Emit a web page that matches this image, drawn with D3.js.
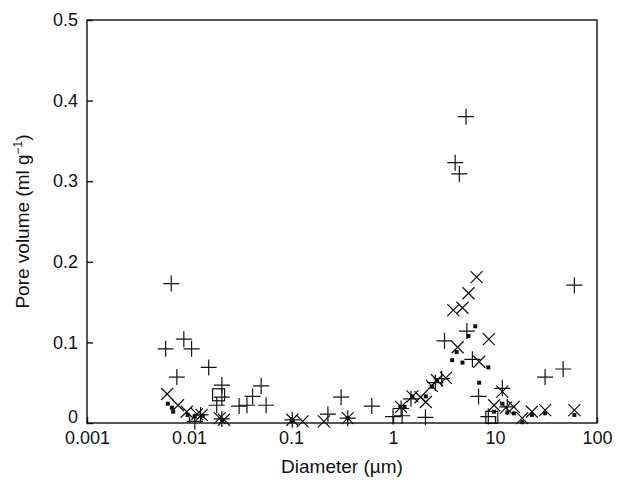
<!DOCTYPE html>
<meta charset="utf-8">
<style>
body { margin: 0; background: #fff; }
text { font-family: "Liberation Sans", Arial, sans-serif; fill: #111; }
.axis path, .axis line { stroke: #111; stroke-width: 1.4; }
.mark { stroke: #111; fill: none; stroke-width: 1.2; }
</style>
<script src="https://d3js.org/d3.v7.min.js"></script>
<div id="chart"></div>
<script>
// tick labels
var xTicks = [0.001, 0.01, 0.1, 1, 10, 100];
var xTickLabels = ["0.001", "0.01", "0.1", "1", "10", "100"];
var yTicks = [0, 0.1, 0.2, 0.3, 0.4, 0.5];
var yTickLabels = ["0", "0.1", "0.2", "0.3", "0.4", "0.5"];

// series: diameter (um) and pore volume (ml/g)
var plusD = [0.0059, 0.0067, 0.0076, 0.0089, 0.0106, 0.0114, 0.013, 0.0156, 0.0187, 0.021, 0.021, 0.021, 0.031, 0.037, 0.042, 0.051, 0.057,
  0.103, 0.23, 0.31, 0.36, 0.62, 1.0, 1.2, 1.23, 1.5, 2.08, 2.6, 3.0, 3.2, 4.07, 4.47, 5.2, 5.3, 6.0, 6.9, 8.6, 11.8, 13.2, 31, 46.6, 60];
var plusV = [0.092, 0.173, 0.057, 0.104, 0.092, 0.002, 0.010, 0.069, 0.022, 0.047, 0.032, 0.005, 0.021, 0.022, 0.033, 0.046, 0.022,
  0.004, 0.011, 0.032, 0.006, 0.021, 0.008, 0.018, 0.009, 0.030, 0.007, 0.050, 0.055, 0.102, 0.323, 0.309, 0.380, 0.114, 0.079, 0.033, 0.008, 0.043, 0.020, 0.057, 0.067, 0.171];

var crossD = [0.0061, 0.0078, 0.0095, 0.012, 0.0133, 0.020, 0.022, 0.103, 0.13, 0.21, 0.36, 1.2, 1.55, 1.86, 2.1, 2.4, 2.7, 3.3,
  3.9, 4.3, 4.8, 5.5, 6.6, 7.0, 8.7, 9.8, 11.8, 12.8, 15.3, 18.5, 23, 31, 60];
var crossV = [0.036, 0.022, 0.014, 0.011, 0.010, 0.006, 0.004, 0.004, 0.002, 0.002, 0.006, 0.020, 0.033, 0.032, 0.026, 0.046, 0.053, 0.056,
  0.140, 0.094, 0.143, 0.161, 0.181, 0.076, 0.104, 0.022, 0.039, 0.019, 0.020, 0.006, 0.014, 0.016, 0.016];

var squareD = [0.0062, 0.0068, 0.007, 0.0097, 0.0114, 0.0136, 0.021, 0.103, 0.36, 1.18, 1.3, 1.55, 2.1, 2.4, 2.7,
  3.8, 4.2, 4.8, 5.5, 6.4, 7.0, 8.6, 9.8, 11.8, 13.2, 15.3, 18.5, 23, 31, 60];
var squareV = [0.024, 0.019, 0.014, 0.010, 0.008, 0.009, 0.004, 0.003, 0.006, 0.020, 0.020, 0.033, 0.033, 0.045, 0.053,
  0.078, 0.088, 0.075, 0.108, 0.120, 0.050, 0.069, 0.014, 0.024, 0.013, 0.012, 0.001, 0.010, 0.012, 0.010];

var openD = [0.0195, 9.3];
var openV = [0.035, 0.007];

var W = 617, H = 484;
var margin = {top: 20, right: 20, bottom: 61, left: 87};

var svg = d3.select("#chart").append("svg")
  .attr("width", W).attr("height", H);

var x = d3.scaleLog().domain([0.001, 100]).range([margin.left, W - margin.right]);
var y = d3.scaleLinear().domain([0, 0.5]).range([H - margin.bottom, margin.top]);

// frame
svg.append("rect")
  .attr("x", x(0.001)).attr("y", y(0.5))
  .attr("width", x(100) - x(0.001)).attr("height", y(0) - y(0.5))
  .attr("fill", "none").attr("stroke", "#111").attr("stroke-width", 1.4);

svg.append("g").attr("class", "axis")
  .attr("transform", "translate(0," + y(0) + ")")
  .call(d3.axisBottom(x).tickValues(xTicks)
    .tickFormat(function(d, i) { return xTickLabels[i]; })
    .tickSizeInner(-6).tickSizeOuter(0).tickPadding(8))
  .call(function(g) { g.select(".domain").remove(); })
  .selectAll("text").style("font-size", "18px").attr("fill", "#111");

var yAxis = svg.append("g").attr("class", "axis")
  .attr("transform", "translate(" + x(0.001) + ",0)")
  .call(d3.axisLeft(y).tickValues(yTicks)
    .tickFormat(function(d, i) { return yTickLabels[i]; })
    .tickSizeInner(-6).tickSizeOuter(0).tickPadding(9));
yAxis.select(".domain").remove();
yAxis.selectAll("text").style("font-size", "18px").attr("fill", "#111")
  .attr("dy", function(d) { return d === 0 ? "-0.05em" : "0.32em"; });

// axis titles
svg.append("text")
  .attr("x", (x(0.001) + x(100)) / 2).attr("y", 473)
  .attr("text-anchor", "middle").style("font-size", "19px")
  .text("Diameter (\u00b5m)");

var yl = svg.append("text")
  .attr("transform", "translate(29," + ((y(0) + y(0.5)) / 2) + ") rotate(-90)")
  .attr("text-anchor", "middle").style("font-size", "19px");
yl.append("tspan").text("Pore volume (ml g");
yl.append("tspan").attr("dy", -7).style("font-size", "12px").text("\u22121");
yl.append("tspan").attr("dy", 7).text(")");

function pairs(ds, vs) { return ds.map(function(d, i) { return {d: d, v: vs[i]}; }); }

// plus markers
svg.append("g").selectAll("path").data(pairs(plusD, plusV)).join("path")
  .attr("class", "mark")
  .attr("d", function(p) {
    var cx = x(p.d), cy = y(p.v), r = 8;
    return "M" + (cx - r) + "," + cy + "H" + (cx + r) + "M" + cx + "," + (cy - r) + "V" + (cy + r);
  });

// cross markers
svg.append("g").selectAll("path").data(pairs(crossD, crossV)).join("path")
  .attr("class", "mark")
  .attr("d", function(p) {
    var cx = x(p.d), cy = y(p.v), r = 6;
    return "M" + (cx - r) + "," + (cy - r) + "L" + (cx + r) + "," + (cy + r) +
      "M" + (cx - r) + "," + (cy + r) + "L" + (cx + r) + "," + (cy - r);
  });

// filled squares
svg.append("g").selectAll("rect").data(pairs(squareD, squareV)).join("rect")
  .attr("x", function(p) { return x(p.d) - 2; })
  .attr("y", function(p) { return y(p.v) - 2; })
  .attr("width", 4).attr("height", 4)
  .attr("fill", "#111");

// open squares
svg.append("g").selectAll("rect").data(pairs(openD, openV)).join("rect")
  .attr("class", "mark")
  .attr("x", function(p) { return x(p.d) - 6; })
  .attr("y", function(p) { return y(p.v) - 6; })
  .attr("width", 12).attr("height", 12);
</script>
